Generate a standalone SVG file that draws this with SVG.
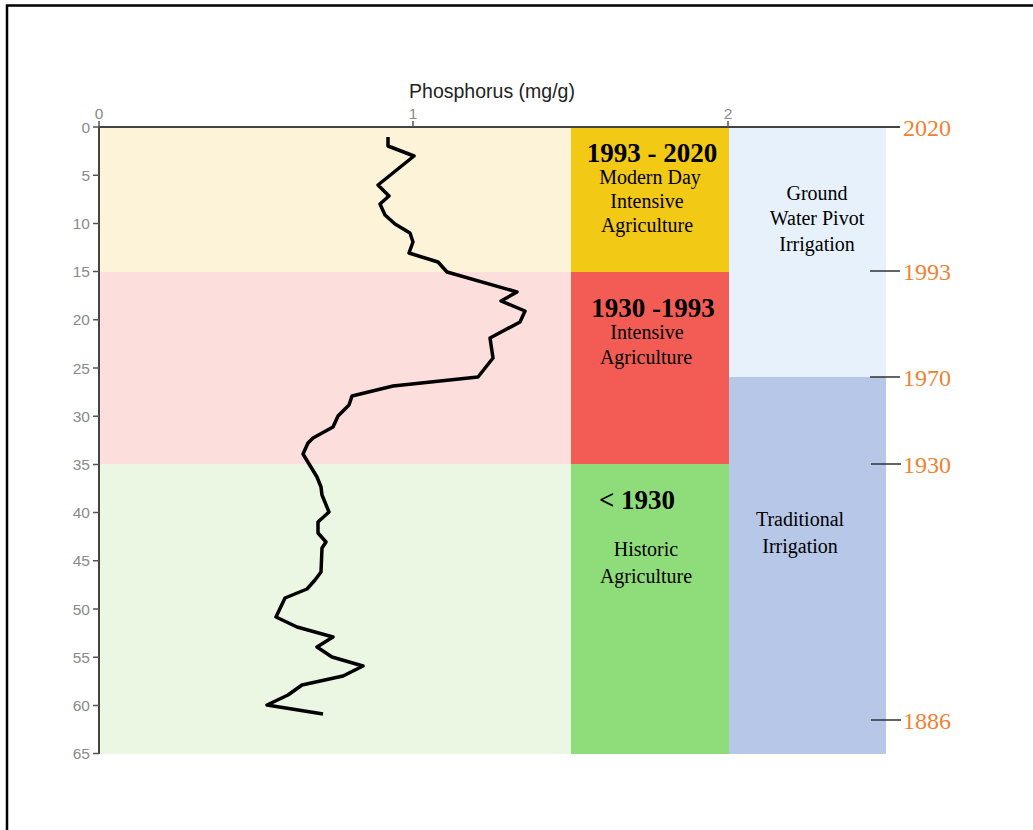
<svg xmlns="http://www.w3.org/2000/svg" width="1033" height="830" viewBox="0 0 1033 830">
<style>
.tick{stroke:#555;stroke-width:1.5}
.lab{font-family:"Liberation Sans",Arial,sans-serif;font-size:15.5px;fill:#8a8a8a}
.tr{font-family:"Liberation Serif","Times New Roman",serif;fill:#000}
.big{font-size:27px;font-weight:bold}
.sm{font-size:20px}
.yr{font-family:"Liberation Serif","Times New Roman",serif;font-size:24px;fill:#EE8232}
.yt{stroke:#333;stroke-width:1.5}
</style>
<rect x="0" y="0" width="1033" height="830" fill="#fff"/>
<path d="M7 830 V5.5 H1033" fill="none" stroke="#000" stroke-width="2.5"/>
<g id="bands">
<rect x="100" y="127" width="471" height="145" fill="#FDF3D8"/>
<rect x="100" y="272" width="471" height="192" fill="#FCDFDC"/>
<rect x="100" y="464" width="471" height="290" fill="#EBF6E3"/>
</g>
<g id="era-modern"><rect x="571" y="127" width="158" height="145" fill="#F2C914"/>
<text class="tr big" x="652" y="162" text-anchor="middle">1993 - 2020</text>
<text class="tr sm" x="650" y="184" text-anchor="middle">Modern Day</text>
<text class="tr sm" x="647" y="208" text-anchor="middle">Intensive</text>
<text class="tr sm" x="647" y="232" text-anchor="middle">Agriculture</text></g>
<g id="era-intensive"><rect x="571" y="272" width="158" height="192" fill="#F25C54"/>
<text class="tr big" x="653" y="317" text-anchor="middle">1930 -1993</text>
<text class="tr sm" x="647" y="339" text-anchor="middle">Intensive</text>
<text class="tr sm" x="646" y="364" text-anchor="middle">Agriculture</text></g>
<g id="era-historic"><rect x="571" y="464" width="158" height="290" fill="#8FDC7A"/>
<text class="tr big" x="637" y="509" text-anchor="middle">&lt; 1930</text>
<text class="tr sm" x="646" y="556" text-anchor="middle">Historic</text>
<text class="tr sm" x="646" y="583" text-anchor="middle">Agriculture</text></g>
<g id="irr-pivot"><rect x="729" y="127" width="157" height="250" fill="#E7F1FB"/>
<text class="tr sm" x="817" y="200" text-anchor="middle">Ground</text>
<text class="tr sm" x="817" y="225" text-anchor="middle">Water Pivot</text>
<text class="tr sm" x="817" y="251" text-anchor="middle">Irrigation</text></g>
<g id="irr-trad"><rect x="729" y="377" width="157" height="377" fill="#B7C7E7"/>
<text class="tr sm" x="800" y="526" text-anchor="middle">Traditional</text>
<text class="tr sm" x="800" y="553" text-anchor="middle">Irrigation</text></g>
<g id="axes">
<path d="M99 754 V127 H900" fill="none" stroke="#444" stroke-width="2"/>
<path class="tick" d="M99 121V127M413 121V127M728 121V127M93 127H99M93 175.2H99M93 223.4H99M93 271.6H99M93 319.8H99M93 368H99M93 416.2H99M93 464.4H99M93 512.6H99M93 560.8H99M93 609H99M93 657.2H99M93 705.4H99M93 753.6H99"/>
<g class="lab" text-anchor="middle"><text x="99" y="119">0</text><text x="413" y="119">1</text><text x="728" y="119">2</text></g>
<g class="lab" text-anchor="end"><text x="90" y="133">0</text><text x="90" y="181">5</text><text x="90" y="229">10</text><text x="90" y="277">15</text><text x="90" y="325">20</text><text x="90" y="374">25</text><text x="90" y="422">30</text><text x="90" y="470">35</text><text x="90" y="518">40</text><text x="90" y="566">45</text><text x="90" y="615">50</text><text x="90" y="663">55</text><text x="90" y="711">60</text><text x="90" y="759">65</text></g>
<text x="492" y="98" text-anchor="middle" font-family="'Liberation Sans',Arial,sans-serif" font-size="19.5" fill="#222">Phosphorus (mg/g)</text>
</g>
<g id="years">
<path class="yt" d="M870 271H900M870 377H900M871 464H901M871 720H901"/>
<text class="yr" x="903" y="136">2020</text>
<text class="yr" x="903" y="280">1993</text>
<text class="yr" x="903" y="386">1970</text>
<text class="yr" x="903" y="473">1930</text>
<text class="yr" x="903" y="729">1886</text>
</g>
<g id="connectors">
<polyline fill="none" stroke="#000" stroke-width="3.5" stroke-linejoin="round" stroke-linecap="butt" points="388,137 388,146 414,156 378,185 389,196 380,204 385,215 395,224 410,233 413,242 409,253 438,262 447,272 517,292 501,301 525,311 520,322 490,338 493,358 478,377 393,386 352,396 349,405 338,416 333,427 313,438 308,443 303,454 317,477 321,487 322,495 329,512 318,522 318,533 326,542 322,548 321,572 315,580 307,589 285,598 276,617 297,627 333,637 317,647 332,657 363,666 343,676 302,685 288,695 267,705 323,714"/>
</g>
</svg>
